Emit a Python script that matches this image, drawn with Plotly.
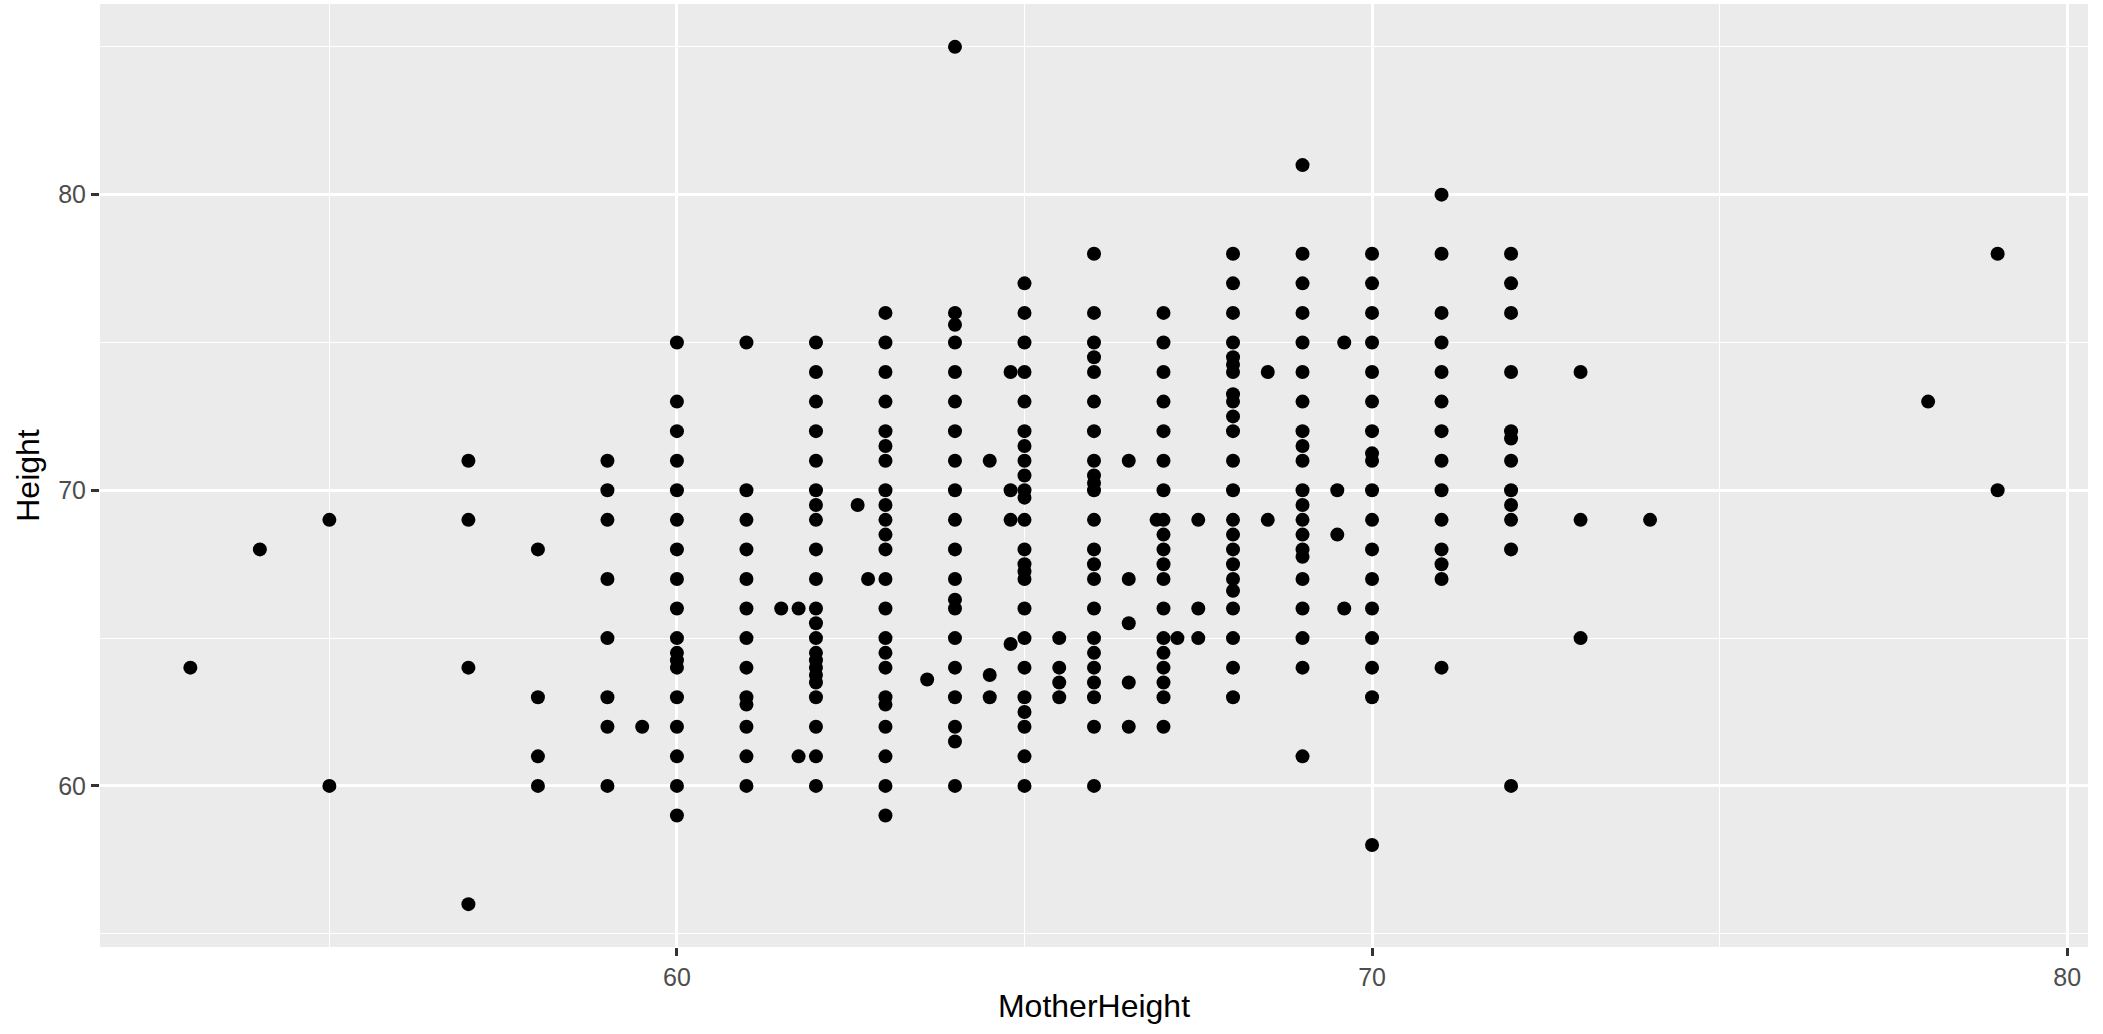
import plotly.graph_objects as go

# Mother's height (x) and child's height (y)
mother_height = (
    [53] + [54] + [55, 55] + [57] * 4 + [58] * 4 + [59] * 8 + [59.5]
    + [60] * 18 + [61] * 13 + [61.5] + [61.75] * 2 + [62] * 22 + [62.6] + [62.75]
    + [63] * 23 + [63.6] + [64] * 20 + [64.5] * 3 + [64.8] * 4 + [65] * 24
    + [65.5] * 4 + [66] * 23 + [66.5] * 5 + [66.9] + [67] * 19 + [67.2] + [67.5] * 3
    + [68] * 23 + [68.5] * 2 + [69] * 21 + [69.5] * 2 + [69.6] * 2 + [70] * 18
    + [71] * 14 + [72] * 12 + [73] * 3 + [74] + [78] + [79] * 2
)

height = [
    64,                                   # 53
    68,                                   # 54
    69, 60,                               # 55
    71, 69, 64, 56,                       # 57
    68, 63, 61, 60,                       # 58
    71, 70, 69, 67, 65, 63, 62, 60,       # 59
    62,                                   # 59.5
    75, 73, 72, 71, 70, 69, 68, 67, 66, 65, 64.5, 64.25, 64, 63, 62, 61, 60, 59,   # 60
    75, 70, 69, 68, 67, 66, 65, 64, 63, 62.75, 62, 61, 60,                         # 61
    66,                                   # 61.5
    66, 61,                               # 61.75
    75, 74, 73, 72, 71, 70, 69.5, 69, 68, 67, 66, 65.5, 65, 64.5, 64.25, 64,
    63.75, 63.5, 63, 62, 61, 60,                                                   # 62
    69.5,                                 # 62.6
    67,                                   # 62.75
    76, 75, 74, 73, 72, 71.5, 71, 70, 69.5, 69, 68.5, 68, 67, 66, 65, 64.5, 64,
    63, 62.75, 62, 61, 60, 59,                                                     # 63
    63.6,                                 # 63.6
    85, 76, 75.6, 75, 74, 73, 72, 71, 70, 69, 68, 67, 66.3, 66, 65, 64, 63, 62,
    61.5, 60,                                                                      # 64
    71, 63.75, 63,                        # 64.5
    74, 70, 69, 64.8,                     # 64.8
    77, 76, 75, 74, 73, 72, 71.5, 71, 70.5, 70, 69.75, 69, 68, 67.5, 67.25, 67,
    66, 65, 64, 63, 62.5, 62, 61, 60,                                              # 65
    65, 64, 63.5, 63,                     # 65.5
    78, 76, 75, 74.5, 74, 73, 72, 71, 70.5, 70.25, 70, 69, 68, 67.5, 67, 66, 65,
    64.5, 64, 63.5, 63, 62, 60,                                                    # 66
    71, 67, 65.5, 63.5, 62,               # 66.5
    69,                                   # 66.9
    76, 75, 74, 73, 72, 71, 70, 69, 68.5, 68, 67.5, 67, 66, 65, 64.5, 64, 63.5,
    63, 62,                                                                        # 67
    65,                                   # 67.2
    69, 66, 65,                           # 67.5
    78, 77, 76, 75, 74.5, 74.25, 74, 73.25, 73, 72.5, 72, 71, 70, 69, 68.5, 68,
    67.5, 67, 66.6, 66, 65, 64, 63,                                                # 68
    74, 69,                               # 68.5
    81, 78, 77, 76, 75, 74, 73, 72, 71.5, 71, 70, 69.5, 69, 68.5, 68, 67.75, 67,
    66, 65, 64, 61,                                                                # 69
    70, 68.5,                             # 69.5
    75, 66,                               # 69.6
    78, 77, 76, 75, 74, 73, 72, 71.25, 71, 70, 69, 68, 67, 66, 65, 64, 63, 58,     # 70
    80, 78, 76, 75, 74, 73, 72, 71, 70, 69, 68, 67.5, 67, 64,                      # 71
    78, 77, 76, 74, 72, 71.75, 71, 70, 69.5, 69, 68, 60,                           # 72
    74, 69, 65,                           # 73
    69,                                   # 74
    73,                                   # 78
    78, 70,                               # 79
]

x_ticks = [60, 70, 80]
y_ticks = [60, 70, 80]
x_title = "MotherHeight"
y_title = "Height"

assert len(mother_height) == len(height), (len(mother_height), len(height))

FONT = "Liberation Sans, Arial, Helvetica, sans-serif"

fig = go.Figure(
    go.Scatter(
        x=mother_height,
        y=height,
        mode="markers",
        marker=dict(color="black", size=14, line=dict(width=0)),
        hoverinfo="x+y",
    )
)

axis_common = dict(
    showline=False,
    zeroline=False,
    showgrid=True,
    gridcolor="white",
    gridwidth=2.7,
    ticks="outside",
    ticklen=8,
    tickwidth=2.7,
    tickcolor="#333333",
    tickfont=dict(family=FONT, size=25, color="#4D4D4D"),
    minor=dict(showgrid=True, gridcolor="white", gridwidth=1.4, dtick=5, ticks=""),
    dtick=10,
)

fig.update_xaxes(
    **axis_common,
    range=[51.7, 80.3],
    tickvals=x_ticks,
    title=dict(text=x_title, font=dict(family=FONT, size=32, color="black"), standoff=4),
)
fig.update_yaxes(
    **axis_common,
    range=[54.55, 86.45],
    tickvals=y_ticks,
    title=dict(text=y_title, font=dict(family=FONT, size=32, color="black"), standoff=8),
)

fig.update_layout(
    width=2103,
    height=1034,
    margin=dict(l=100, r=15, t=4, b=87, autoexpand=False),
    plot_bgcolor="#EBEBEB",
    paper_bgcolor="white",
    showlegend=False,
)

fig.write_html(
    "out.html",
    config={"displayModeBar": False},
    post_script="document.body.style.margin='0';document.body.style.overflow='hidden';",
)
